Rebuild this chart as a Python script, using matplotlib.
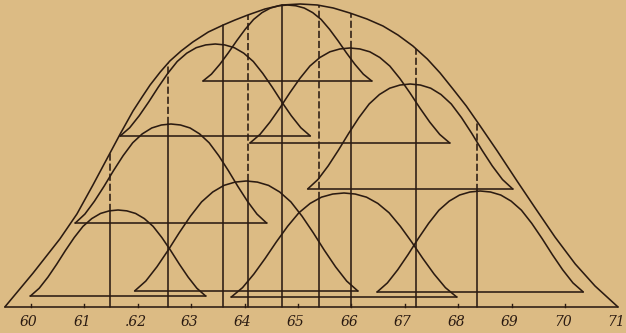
import numpy as np
import matplotlib.pyplot as plt

# outer curve of the whole population
envelope_x = [59.51, 60.04, 60.54, 60.86, 61.16, 61.29, 61.48, 61.67, 61.91, 62.08,
              62.23, 62.42, 62.60, 62.81, 63.03, 63.32, 63.60, 63.82, 64.06, 64.38,
              64.70, 65.04, 65.36, 65.66, 65.97, 66.29, 66.59, 66.87, 67.15, 67.42,
              67.66, 67.90, 68.15, 68.41, 68.73, 69.10, 69.44, 69.81, 70.19, 70.56,
              70.99]
envelope_y = [0, 34, 68, 93, 122, 135, 154, 173, 196, 210,
              222, 235, 246, 256, 265, 275, 282, 287, 292, 298,
              302, 303, 302, 299, 294, 288, 281, 272, 261, 248,
              234, 218, 201, 181, 156, 126, 99, 70, 43, 21,
              0]

# the nine component curves (x in inches of stature, y in drawing units)
comp_center = [61.63, 62.62, 64.03, 63.45, 64.80, 65.86, 65.97, 67.10, 68.41]
comp_halfwidth = [1.64, 1.79, 2.09, 1.78, 1.58, 2.11, 1.87, 1.92, 1.93]
comp_base = [11, 84, 16, 171, 226, 10, 164, 118, 15]
comp_height = [86, 99, 110, 92, 76, 104, 95, 105, 101]
mode_x = [61.48, 62.57, 64.06, 63.60, 64.70, 65.39, 65.99, 67.21, 68.35]
mode_dashed_above = [True, True, True, False, False, True, True, True, True]

# shape of one bell as drawn: offset in half-widths -> share of peak height
bell_offset = [-1.0, -0.9, -0.8, -0.7, -0.6, -0.5, -0.4, -0.3, -0.2, -0.1, 0.0,
               0.1, 0.2, 0.3, 0.4, 0.5, 0.6, 0.7, 0.8, 0.9, 1.0]
bell_share = [0.0, 0.09, 0.22, 0.37, 0.53, 0.68, 0.81, 0.90, 0.96, 0.99, 1.0,
              0.99, 0.96, 0.90, 0.81, 0.68, 0.53, 0.37, 0.22, 0.09, 0.0]

tick_values = [60, 61, 62, 63, 64, 65, 66, 67, 68, 69, 70, 71]
tick_labels = ["60", "61", ".62", "63", "64", "65", "66", "67", "68", "69", "70", "71"]

PAPER = "#dcbb84"
INK = "#2b1b12"
LW = 1.15
DASH = (0, (4.5, 1.8))

fig = plt.figure(figsize=(6.26, 3.33), dpi=100)
fig.patch.set_facecolor(PAPER)
ax = fig.add_axes([0, 0, 1, 1])
ax.set_facecolor(PAPER)
ax.set_xlim(59.42, 71.14)
ax.set_ylim(-26, 307)
ax.axis("off")

line_kw = dict(color=INK, lw=LW, solid_capstyle="round", solid_joinstyle="round")

# base line and the big curve
ax.plot([envelope_x[0], envelope_x[-1]], [0, 0], **line_kw)
ax.plot(envelope_x, envelope_y, **line_kw)

off = np.array(bell_offset)
share = np.array(bell_share)
for c, hw, b, h, m, dashed in zip(comp_center, comp_halfwidth, comp_base,
                                  comp_height, mode_x, mode_dashed_above):
    xs = c + off * hw
    ys = b + share * h
    ax.plot(xs, ys, **line_kw)
    ax.plot([c - hw, c + hw], [b, b], **line_kw)

    # vertical at the mode: solid up to the bell, dashed on to the outer curve
    y_bell = np.interp(m, xs, ys)
    y_top = np.interp(m, envelope_x, envelope_y)
    if dashed:
        ax.plot([m, m], [0, y_bell], **line_kw)
        ax.plot([m, m], [y_bell, y_top], color=INK, lw=LW, linestyle=DASH)
    else:
        ax.plot([m, m], [0, y_top], **line_kw)

for t, lab in zip(tick_values, tick_labels):
    if t < 71:
        ax.plot([t, t], [0, 3], color=INK, lw=1.0)
    ax.text(t - 0.04, -15, lab, ha="center", va="center", fontsize=10,
            style="italic", family="DejaVu Serif", color=INK)

fig.savefig("out.png", dpi=100, facecolor=PAPER)
